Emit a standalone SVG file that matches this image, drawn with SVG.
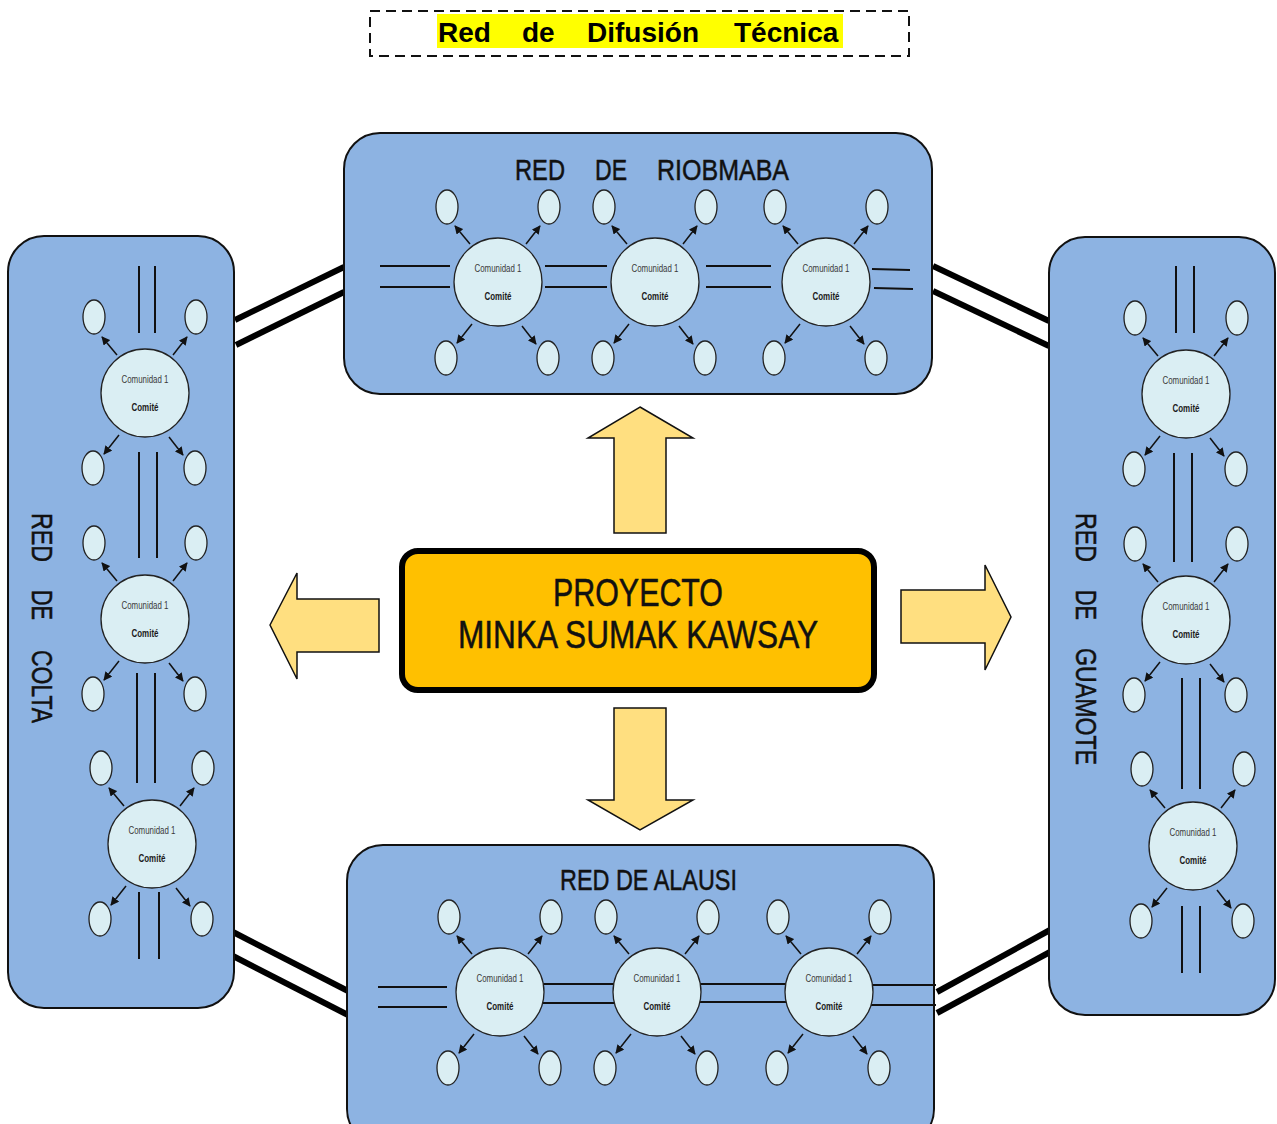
<svg xmlns="http://www.w3.org/2000/svg" width="1277" height="1124" viewBox="0 0 1277 1124">
<defs>
<style>
.panel{fill:#8DB3E2;stroke:#111;stroke-width:2}
.cm{fill:#DAEEF3;stroke:#222;stroke-width:1.3}
.el{fill:#DAEEF3;stroke:#222;stroke-width:1.3}
.ar{stroke:#111;stroke-width:1.5;fill:none;marker-end:url(#ah)}
.c1{font-family:"Liberation Sans Narrow","Liberation Sans",sans-serif;font-size:10.5px;fill:#3a3a3a;text-anchor:middle}
.c2{font-family:"Liberation Sans Narrow","Liberation Sans",sans-serif;font-size:10.5px;font-weight:bold;fill:#1a1a1a;text-anchor:middle}
.pt{font-family:"Liberation Sans Narrow","Liberation Sans",sans-serif;font-size:30px;fill:#111;stroke:#111;stroke-width:0.5}
.dl{stroke:#111;stroke-width:2;fill:none}
.thick{stroke:#000;stroke-width:6;fill:none}
.blk{fill:#FFDF80;stroke:#111;stroke-width:1.5}
</style>
<marker id="ah" viewBox="0 0 10 10" refX="9" refY="5" markerWidth="8.5" markerHeight="8.5" markerUnits="userSpaceOnUse" orient="auto"><path d="M0,0 L10,5 L0,10 z" fill="#111"/></marker>
</defs>
<rect width="1277" height="1124" fill="#fff"/>

<g id="title">
<rect x="370" y="11" width="539" height="45" fill="none" stroke="#111" stroke-width="2" stroke-dasharray="10 6"/>
<rect x="437" y="14" width="406" height="34" fill="#FFFF00"/>
<text y="42" font-family="Liberation Sans,Arial,sans-serif" font-size="28" font-weight="bold" fill="#000"><tspan x="438">Red</tspan><tspan x="522">de</tspan><tspan x="587">Difusión</tspan><tspan x="734">Técnica</tspan></text>
</g>

<g id="connectors">
<line class="thick" x1="235" y1="320" x2="344" y2="267"/>
<line class="thick" x1="236" y1="345" x2="344" y2="292"/>
<line class="thick" x1="933" y1="266" x2="1049" y2="321"/>
<line class="thick" x1="933" y1="291" x2="1049" y2="346"/>
<line class="thick" x1="233" y1="932" x2="348" y2="991"/>
<line class="thick" x1="233" y1="956" x2="348" y2="1015"/>
<line class="thick" x1="937" y1="992" x2="1050" y2="930"/>
<line class="thick" x1="937" y1="1013" x2="1050" y2="952"/>
</g>

<g id="panel-riobamba">
<rect class="panel" x="344" y="133" width="588" height="261" rx="36"/>
<text class="pt" y="180"><tspan x="515" textLength="50" lengthAdjust="spacingAndGlyphs">RED</tspan><tspan x="595" textLength="32" lengthAdjust="spacingAndGlyphs">DE</tspan><tspan x="657" textLength="132" lengthAdjust="spacingAndGlyphs">RIOBMABA</tspan></text>
<line class="dl" x1="380" y1="266" x2="450" y2="266"/><line class="dl" x1="380" y1="287" x2="450" y2="287"/>
<line class="dl" x1="545" y1="266" x2="607" y2="266"/><line class="dl" x1="545" y1="287" x2="607" y2="287"/>
<line class="dl" x1="706" y1="266" x2="771" y2="266"/><line class="dl" x1="706" y1="287" x2="771" y2="287"/>
<line class="dl" x1="872" y1="269" x2="910" y2="270"/><line class="dl" x1="874" y1="288" x2="913" y2="289"/>
</g>

<g id="panel-colta">
<rect class="panel" x="8" y="236" width="226" height="772" rx="36"/>
<text class="pt" transform="translate(32,513) rotate(90)"><tspan x="0" textLength="49" lengthAdjust="spacingAndGlyphs">RED</tspan><tspan x="77" textLength="30" lengthAdjust="spacingAndGlyphs">DE</tspan><tspan x="137" textLength="73" lengthAdjust="spacingAndGlyphs">COLTA</tspan></text>
<line class="dl" x1="139" y1="266" x2="139" y2="333"/><line class="dl" x1="155" y1="266" x2="155" y2="333"/>
<line class="dl" x1="139" y1="452" x2="139" y2="558"/><line class="dl" x1="157" y1="452" x2="157" y2="558"/>
<line class="dl" x1="137" y1="673" x2="137" y2="783"/><line class="dl" x1="155" y1="673" x2="155" y2="783"/>
<line class="dl" x1="139" y1="892" x2="139" y2="959"/><line class="dl" x1="159" y1="892" x2="159" y2="959"/>
</g>

<g id="panel-guamote">
<rect class="panel" x="1049" y="237" width="226" height="778" rx="36"/>
<text class="pt" transform="translate(1076,513) rotate(90)"><tspan x="0" textLength="49" lengthAdjust="spacingAndGlyphs">RED</tspan><tspan x="77" textLength="30" lengthAdjust="spacingAndGlyphs">DE</tspan><tspan x="135" textLength="117" lengthAdjust="spacingAndGlyphs">GUAMOTE</tspan></text>
<line class="dl" x1="1176" y1="266" x2="1176" y2="333"/><line class="dl" x1="1194" y1="266" x2="1194" y2="333"/>
<line class="dl" x1="1174" y1="453" x2="1174" y2="562"/><line class="dl" x1="1192" y1="453" x2="1192" y2="562"/>
<line class="dl" x1="1182" y1="678" x2="1182" y2="789"/><line class="dl" x1="1200" y1="678" x2="1200" y2="789"/>
<line class="dl" x1="1182" y1="906" x2="1182" y2="973"/><line class="dl" x1="1200" y1="906" x2="1200" y2="973"/>
</g>

<g id="panel-alausi">
<rect class="panel" x="347" y="845" width="587" height="300" rx="36"/>
<text class="pt" x="560" y="890" textLength="177" lengthAdjust="spacingAndGlyphs">RED DE ALAUSI</text>
<line class="dl" x1="378" y1="987" x2="447" y2="987"/><line class="dl" x1="378" y1="1007" x2="447" y2="1007"/>
<line class="dl" x1="543" y1="984" x2="614" y2="984"/><line class="dl" x1="543" y1="1003" x2="614" y2="1003"/>
<line class="dl" x1="695" y1="984" x2="787" y2="984"/><line class="dl" x1="695" y1="1002" x2="787" y2="1002"/>
<line class="dl" x1="869" y1="985" x2="936" y2="985"/><line class="dl" x1="871" y1="1005" x2="936" y2="1005"/>
</g>

<g id="rio-1"><ellipse class="el" cx="447" cy="207" rx="11" ry="17"/><ellipse class="el" cx="549" cy="207" rx="11" ry="17"/><ellipse class="el" cx="446" cy="358" rx="11" ry="17"/><ellipse class="el" cx="548" cy="358" rx="11" ry="17"/>
<line class="ar" x1="470" y1="244" x2="455" y2="226"/><line class="ar" x1="526" y1="244" x2="540" y2="226"/><line class="ar" x1="472" y1="324" x2="457" y2="343"/><line class="ar" x1="522" y1="326" x2="536" y2="344"/>
<circle class="cm" cx="498" cy="282" r="44"/><text class="c1" x="498" y="272" textLength="47" lengthAdjust="spacingAndGlyphs">Comunidad 1</text><text class="c2" x="498" y="300" textLength="27" lengthAdjust="spacingAndGlyphs">Comité</text></g>
<g id="rio-2"><ellipse class="el" cx="604" cy="207" rx="11" ry="17"/><ellipse class="el" cx="706" cy="207" rx="11" ry="17"/><ellipse class="el" cx="603" cy="358" rx="11" ry="17"/><ellipse class="el" cx="705" cy="358" rx="11" ry="17"/>
<line class="ar" x1="627" y1="244" x2="612" y2="226"/><line class="ar" x1="683" y1="244" x2="697" y2="226"/><line class="ar" x1="629" y1="324" x2="614" y2="343"/><line class="ar" x1="679" y1="326" x2="693" y2="344"/>
<circle class="cm" cx="655" cy="282" r="44"/><text class="c1" x="655" y="272" textLength="47" lengthAdjust="spacingAndGlyphs">Comunidad 1</text><text class="c2" x="655" y="300" textLength="27" lengthAdjust="spacingAndGlyphs">Comité</text></g>
<g id="rio-3"><ellipse class="el" cx="775" cy="207" rx="11" ry="17"/><ellipse class="el" cx="877" cy="207" rx="11" ry="17"/><ellipse class="el" cx="774" cy="358" rx="11" ry="17"/><ellipse class="el" cx="876" cy="358" rx="11" ry="17"/>
<line class="ar" x1="798" y1="244" x2="783" y2="226"/><line class="ar" x1="854" y1="244" x2="868" y2="226"/><line class="ar" x1="800" y1="324" x2="785" y2="343"/><line class="ar" x1="850" y1="326" x2="864" y2="344"/>
<circle class="cm" cx="826" cy="282" r="44"/><text class="c1" x="826" y="272" textLength="47" lengthAdjust="spacingAndGlyphs">Comunidad 1</text><text class="c2" x="826" y="300" textLength="27" lengthAdjust="spacingAndGlyphs">Comité</text></g>

<g id="ala-1"><ellipse class="el" cx="449" cy="917" rx="11" ry="17"/><ellipse class="el" cx="551" cy="917" rx="11" ry="17"/><ellipse class="el" cx="448" cy="1068" rx="11" ry="17"/><ellipse class="el" cx="550" cy="1068" rx="11" ry="17"/>
<line class="ar" x1="472" y1="954" x2="457" y2="936"/><line class="ar" x1="528" y1="954" x2="542" y2="936"/><line class="ar" x1="474" y1="1034" x2="459" y2="1053"/><line class="ar" x1="524" y1="1036" x2="538" y2="1054"/>
<circle class="cm" cx="500" cy="992" r="44"/><text class="c1" x="500" y="982" textLength="47" lengthAdjust="spacingAndGlyphs">Comunidad 1</text><text class="c2" x="500" y="1010" textLength="27" lengthAdjust="spacingAndGlyphs">Comité</text></g>
<g id="ala-2"><ellipse class="el" cx="606" cy="917" rx="11" ry="17"/><ellipse class="el" cx="708" cy="917" rx="11" ry="17"/><ellipse class="el" cx="605" cy="1068" rx="11" ry="17"/><ellipse class="el" cx="707" cy="1068" rx="11" ry="17"/>
<line class="ar" x1="629" y1="954" x2="614" y2="936"/><line class="ar" x1="685" y1="954" x2="699" y2="936"/><line class="ar" x1="631" y1="1034" x2="616" y2="1053"/><line class="ar" x1="681" y1="1036" x2="695" y2="1054"/>
<circle class="cm" cx="657" cy="992" r="44"/><text class="c1" x="657" y="982" textLength="47" lengthAdjust="spacingAndGlyphs">Comunidad 1</text><text class="c2" x="657" y="1010" textLength="27" lengthAdjust="spacingAndGlyphs">Comité</text></g>
<g id="ala-3"><ellipse class="el" cx="778" cy="917" rx="11" ry="17"/><ellipse class="el" cx="880" cy="917" rx="11" ry="17"/><ellipse class="el" cx="777" cy="1068" rx="11" ry="17"/><ellipse class="el" cx="879" cy="1068" rx="11" ry="17"/>
<line class="ar" x1="801" y1="954" x2="786" y2="936"/><line class="ar" x1="857" y1="954" x2="871" y2="936"/><line class="ar" x1="803" y1="1034" x2="788" y2="1053"/><line class="ar" x1="853" y1="1036" x2="867" y2="1054"/>
<circle class="cm" cx="829" cy="992" r="44"/><text class="c1" x="829" y="982" textLength="47" lengthAdjust="spacingAndGlyphs">Comunidad 1</text><text class="c2" x="829" y="1010" textLength="27" lengthAdjust="spacingAndGlyphs">Comité</text></g>

<g id="col-1"><ellipse class="el" cx="94" cy="317" rx="11" ry="17"/><ellipse class="el" cx="196" cy="317" rx="11" ry="17"/><ellipse class="el" cx="93" cy="468" rx="11" ry="17"/><ellipse class="el" cx="195" cy="468" rx="11" ry="17"/>
<line class="ar" x1="117" y1="355" x2="102" y2="337"/><line class="ar" x1="173" y1="355" x2="187" y2="337"/><line class="ar" x1="119" y1="435" x2="104" y2="454"/><line class="ar" x1="169" y1="437" x2="183" y2="455"/>
<circle class="cm" cx="145" cy="393" r="44"/><text class="c1" x="145" y="383" textLength="47" lengthAdjust="spacingAndGlyphs">Comunidad 1</text><text class="c2" x="145" y="411" textLength="27" lengthAdjust="spacingAndGlyphs">Comité</text></g>
<g id="col-2"><ellipse class="el" cx="94" cy="543" rx="11" ry="17"/><ellipse class="el" cx="196" cy="543" rx="11" ry="17"/><ellipse class="el" cx="93" cy="694" rx="11" ry="17"/><ellipse class="el" cx="195" cy="694" rx="11" ry="17"/>
<line class="ar" x1="117" y1="581" x2="102" y2="563"/><line class="ar" x1="173" y1="581" x2="187" y2="563"/><line class="ar" x1="119" y1="661" x2="104" y2="680"/><line class="ar" x1="169" y1="663" x2="183" y2="681"/>
<circle class="cm" cx="145" cy="619" r="44"/><text class="c1" x="145" y="609" textLength="47" lengthAdjust="spacingAndGlyphs">Comunidad 1</text><text class="c2" x="145" y="637" textLength="27" lengthAdjust="spacingAndGlyphs">Comité</text></g>
<g id="col-3"><ellipse class="el" cx="101" cy="768" rx="11" ry="17"/><ellipse class="el" cx="203" cy="768" rx="11" ry="17"/><ellipse class="el" cx="100" cy="919" rx="11" ry="17"/><ellipse class="el" cx="202" cy="919" rx="11" ry="17"/>
<line class="ar" x1="124" y1="806" x2="109" y2="788"/><line class="ar" x1="180" y1="806" x2="194" y2="788"/><line class="ar" x1="126" y1="886" x2="111" y2="905"/><line class="ar" x1="176" y1="888" x2="190" y2="906"/>
<circle class="cm" cx="152" cy="844" r="44"/><text class="c1" x="152" y="834" textLength="47" lengthAdjust="spacingAndGlyphs">Comunidad 1</text><text class="c2" x="152" y="862" textLength="27" lengthAdjust="spacingAndGlyphs">Comité</text></g>

<g id="gua-1"><ellipse class="el" cx="1135" cy="318" rx="11" ry="17"/><ellipse class="el" cx="1237" cy="318" rx="11" ry="17"/><ellipse class="el" cx="1134" cy="469" rx="11" ry="17"/><ellipse class="el" cx="1236" cy="469" rx="11" ry="17"/>
<line class="ar" x1="1158" y1="356" x2="1143" y2="338"/><line class="ar" x1="1214" y1="356" x2="1228" y2="338"/><line class="ar" x1="1160" y1="436" x2="1145" y2="455"/><line class="ar" x1="1210" y1="438" x2="1224" y2="456"/>
<circle class="cm" cx="1186" cy="394" r="44"/><text class="c1" x="1186" y="384" textLength="47" lengthAdjust="spacingAndGlyphs">Comunidad 1</text><text class="c2" x="1186" y="412" textLength="27" lengthAdjust="spacingAndGlyphs">Comité</text></g>
<g id="gua-2"><ellipse class="el" cx="1135" cy="544" rx="11" ry="17"/><ellipse class="el" cx="1237" cy="544" rx="11" ry="17"/><ellipse class="el" cx="1134" cy="695" rx="11" ry="17"/><ellipse class="el" cx="1236" cy="695" rx="11" ry="17"/>
<line class="ar" x1="1158" y1="582" x2="1143" y2="564"/><line class="ar" x1="1214" y1="582" x2="1228" y2="564"/><line class="ar" x1="1160" y1="662" x2="1145" y2="681"/><line class="ar" x1="1210" y1="664" x2="1224" y2="682"/>
<circle class="cm" cx="1186" cy="620" r="44"/><text class="c1" x="1186" y="610" textLength="47" lengthAdjust="spacingAndGlyphs">Comunidad 1</text><text class="c2" x="1186" y="638" textLength="27" lengthAdjust="spacingAndGlyphs">Comité</text></g>
<g id="gua-3"><ellipse class="el" cx="1142" cy="769" rx="11" ry="17"/><ellipse class="el" cx="1244" cy="769" rx="11" ry="17"/><ellipse class="el" cx="1141" cy="921" rx="11" ry="17"/><ellipse class="el" cx="1243" cy="921" rx="11" ry="17"/>
<line class="ar" x1="1165" y1="808" x2="1150" y2="790"/><line class="ar" x1="1221" y1="808" x2="1235" y2="790"/><line class="ar" x1="1167" y1="888" x2="1152" y2="907"/><line class="ar" x1="1217" y1="890" x2="1231" y2="908"/>
<circle class="cm" cx="1193" cy="846" r="44"/><text class="c1" x="1193" y="836" textLength="47" lengthAdjust="spacingAndGlyphs">Comunidad 1</text><text class="c2" x="1193" y="864" textLength="27" lengthAdjust="spacingAndGlyphs">Comité</text></g>

<g id="block-arrows">
<polygon class="blk" points="640,407 693,438 666,438 666,533 614,533 614,438 588,438"/>
<polygon class="blk" points="614,708 666,708 666,800 693,800 640,830 588,800 614,800"/>
<polygon class="blk" points="270,625 297,573 297,599 379,599 379,652 297,652 297,679"/>
<polygon class="blk" points="901,590 985,590 985,565 1011,617 985,670 985,643 901,643"/>
</g>

<g id="proyecto">
<rect x="402" y="551" width="472" height="139" rx="16" fill="#FFC000" stroke="#000" stroke-width="6"/>
<text class="pt" x="638" y="606" text-anchor="middle" textLength="170" lengthAdjust="spacingAndGlyphs" style="font-size:38px">PROYECTO</text>
<text class="pt" x="638" y="648" text-anchor="middle" textLength="360" lengthAdjust="spacingAndGlyphs" style="font-size:38px">MINKA SUMAK KAWSAY</text>
</g>
</svg>
